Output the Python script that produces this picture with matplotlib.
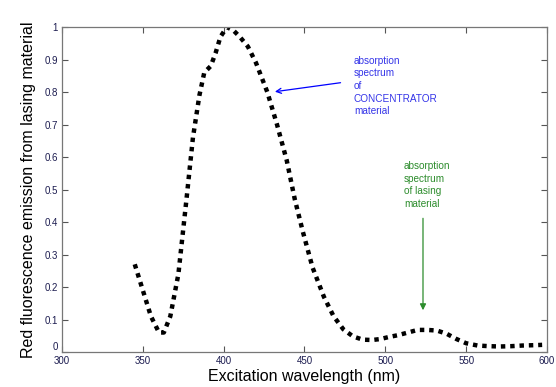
import matplotlib
matplotlib.use("Agg")
import matplotlib.pyplot as plt

plt.rcParams['font.family'] = ['Liberation Sans', 'DejaVu Sans']

# Excitation spectrum (wavelength in nm, normalized red emission)
wavelength = [345, 350, 355, 360, 363, 367, 372, 377, 381, 385, 388, 392, 395,
              398, 402, 406, 410, 415, 420, 427, 433, 439, 444, 449, 455, 462,
              468, 474, 480, 486, 492, 497, 502, 508, 514, 520, 526, 532, 538,
              544, 550, 557, 564, 571, 578, 585, 592, 597]
emission = [0.27, 0.19, 0.11, 0.06, 0.06, 0.11, 0.24, 0.47, 0.66, 0.79, 0.86,
            0.88, 0.92, 0.97, 1.00, 0.99, 0.97, 0.94, 0.89, 0.80, 0.70, 0.59,
            0.47, 0.37, 0.26, 0.17, 0.11, 0.07, 0.048, 0.038, 0.037, 0.040,
            0.046, 0.052, 0.060, 0.068, 0.068, 0.066, 0.056, 0.040, 0.027,
            0.020, 0.018, 0.017, 0.018, 0.020, 0.021, 0.022]

x_ticks = [300, 350, 400, 450, 500, 550, 600]
y_ticks = [0, 0.1, 0.2, 0.3, 0.4, 0.5, 0.6, 0.7, 0.8, 0.9, 1]
y_ticklabels = ['0', '0.1', '0.2', '0.3', '0.4', '0.5', '0.6', '0.7', '0.8', '0.9', '1']

fig = plt.figure(figsize=(5.56, 3.87), dpi=100)
ax = fig.add_axes([0.1115, 0.0904, 0.8723, 0.8396])

ax.plot(wavelength, emission, color='black', linewidth=3.2,
        linestyle=(0, (1, 1.1)), dash_capstyle='butt')

ax.set_xlim(300, 600)
ax.set_ylim(0, 1)
ax.set_xticks(x_ticks)
ax.set_yticks(y_ticks)
ax.set_yticklabels(y_ticklabels)
ax.tick_params(direction='in', top=True, right=True, length=4, width=0.8,
               color='#555555', labelsize=7, labelcolor='#1c1c50', pad=3)
# lift the "0" label so it clears the "300" below it
ax.get_yticklabels()[0].set_va('bottom')
for s in ax.spines.values():
    s.set_color('#777777')
    s.set_linewidth(0.9)

ax.set_xlabel('Excitation wavelength (nm)', fontsize=11.5, labelpad=2)
ax.set_ylabel('Red fluorescence emission from lasing material', fontsize=11.5, labelpad=6)

blue = '#3434e8'
green = '#2c8c2c'
ax.text(480.5, 0.912, 'absorption\nspectrum\nof\nCONCENTRATOR\nmaterial',
        color=blue, fontsize=7.2, va='top', ha='left', linespacing=1.33)
ax.annotate('', xy=(430, 0.80), xytext=(474, 0.83),
            arrowprops=dict(arrowstyle='->', color='blue', lw=0.9,
                            mutation_scale=9))
ax.text(511.5, 0.588, 'absorption\nspectrum\nof lasing\nmaterial',
        color=green, fontsize=7.2, va='top', ha='left', linespacing=1.33)
ax.annotate('', xy=(523.3, 0.12), xytext=(523.3, 0.42),
            arrowprops=dict(arrowstyle='-|>', color=green, lw=0.9,
                            mutation_scale=9))

fig.savefig('out.png', dpi=100)
